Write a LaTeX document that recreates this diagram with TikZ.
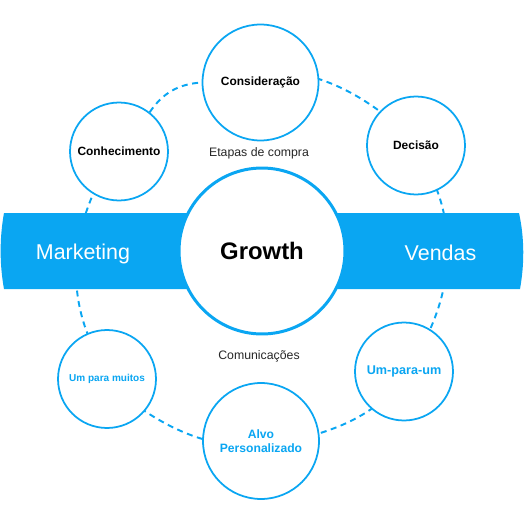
\documentclass[tikz,border=0pt]{standalone}
\usepackage{fontspec}
\setmainfont{Liberation Sans}
\usepackage{xcolor}
\usetikzlibrary{backgrounds}
\definecolor{funnel}{RGB}{10,166,242}

\begin{document}
\begin{tikzpicture}[x=0.02cm, y=-0.02cm,
    stage/.style={circle, draw=funnel, line width=1pt, fill=white, inner sep=0pt},
    small/.style={stage, minimum size=1.96cm},
    large/.style={stage, minimum size=2.32cm},
    ring/.style={draw=funnel, line width=1.1pt, dash pattern=on 3.4pt off 2.6pt},
    dark/.style={font=\bfseries\fontsize{6.8}{8}\selectfont, text=black},
    light/.style={font=\bfseries\fontsize{6.9}{8}\selectfont, text=funnel},
    caption/.style={font=\fontsize{7}{8}\selectfont, text=black!85}]
  \useasboundingbox (0,0) rectangle (524,524);

  % purchase stages (top half)
  \node[small, dark] (conh) at (119,151.5) {Conhecimento};
  \node[large, dark] (cons) at (260.5,82.5) {Consideração};
  \node[small, dark] (dec) at (416,145.5) {Decisão};
  \node[caption] (etapas) at (259,153) {Etapas de compra};

  % communication (bottom half)
  \node[small, light, font=\bfseries\fontsize{5.7}{7}\selectfont] (muitos) at (107,379) {Um para muitos};
  \node[small, light, font=\bfseries\fontsize{7.2}{8}\selectfont] (umum) at (404,371.5) {Um-para-um};
  \node[large, light, align=center] (alvo) at (261,441) {Alvo\\Personalizado};
  \node[caption] (comun) at (259,356) {Comunicações};

  % the centre
  \node[circle, draw=funnel, line width=1.7pt, fill=white, minimum size=3.32cm,
        font=\bfseries\fontsize{13.6}{16}\selectfont] (growth) at (262,251) {Growth};
  \node[text=white, font=\fontsize{12.2}{14}\selectfont] (mkt) at (83,254) {Marketing};
  \node[text=white, font=\fontsize{12.2}{14}\selectfont] (vendas) at (440.5,253) {Vendas};

  \begin{scope}[on background layer]
    % dashed ring through the six stages
    \draw[ring] (conh) to[bend left=26] (cons) to[bend left=27] (dec)
      to[bend left=37] (umum) to[bend left=26] (alvo) to[bend left=26] (muitos)
      to[bend left=37] (conh);
    % the band
    \fill[funnel] (4,213) -- (519,213) .. controls (524.5,238) and (524.5,264) .. (520,289)
      -- (4,289) .. controls (-0.5,264) and (-0.5,238) .. (4,213);
  \end{scope}
\end{tikzpicture}
\end{document}
